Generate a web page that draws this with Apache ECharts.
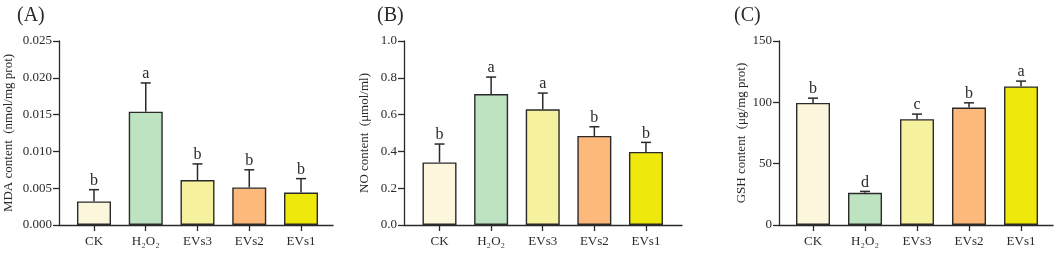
<!DOCTYPE html>
<html lang="en">
<head>
<meta charset="utf-8">
<title>MDA / NO / GSH</title>
<script src="https://cdn.jsdelivr.net/npm/echarts@6/dist/echarts.min.js"></script>
<style>
  html, body { margin: 0; padding: 0; background: #fff; }
  #main { width: 1059px; height: 254px; }
</style>
</head>
<body>
<div id="main"></div>
<script type="text/javascript">
// data
var categories = ['CK', 'H₂O₂', 'EVs3', 'EVs2', 'EVs1'];
var barColors = ['#fcf7dc', '#bde3c1', '#f6f19f', '#fdb97c', '#efe80c'];

var mdaMean = [0.0032, 0.0154, 0.0061, 0.0051, 0.0044];
var mdaErr  = [0.0016, 0.0039, 0.0022, 0.0024, 0.0019];
var mdaSig  = ['b', 'a', 'b', 'b', 'b'];

var noMean = [0.340, 0.712, 0.629, 0.484, 0.397];
var noErr  = [0.100, 0.092, 0.088, 0.050, 0.052];
var noSig  = ['b', 'a', 'a', 'b', 'b'];

var gshMean = [99.5, 26.3, 86.3, 95.8, 113.0];
var gshErr  = [3.9, 1.1, 4.1, 3.8, 4.3];
var gshSig  = ['b', 'd', 'c', 'b', 'a'];

var yTicks = {
  A: {max: 0.025, interval: 0.005, digits: 3},
  B: {max: 1.0, interval: 0.2, digits: 1},
  C: {max: 150, interval: 50, digits: 0}
};

var serif = '"Liberation Serif", "Times New Roman", serif';
var ink = '#2a2a2a';

// panel layout
var panels = [
  {tag: 'A', title: '(A)', tx: 12, name: 'MDA content  (nmol/mg prot)', nameGap: 44,
   left: 59, right: 726, xmin: -0.676, xmax: 4.618,
   mean: mdaMean, err: mdaErr, sig: mdaSig},
  {tag: 'B', title: '(B)', tx: 372, name: 'NO content  (μmol/ml)', nameGap: 33,
   left: 404, right: 377, xmin: -0.688, xmax: 4.698,
   mean: noMean, err: noErr, sig: noSig},
  {tag: 'C', title: '(C)', tx: 729, name: 'GSH content  (μg/mg prot)', nameGap: 31,
   left: 779, right: 6, xmin: -0.654, xmax: 4.615,
   mean: gshMean, err: gshErr, sig: gshSig}
];

var grid = [], xAxis = [], yAxis = [], series = [], titles = [];

panels.forEach(function (p, k) {
  var t = yTicks[p.tag];
  grid.push({left: p.left, right: p.right, top: 41, bottom: 29});
  titles.push({
    text: p.title, left: p.tx, top: 1,
    textStyle: {fontFamily: serif, fontSize: 20, fontWeight: 'normal', color: ink}
  });
  xAxis.push({
    type: 'value', gridIndex: k, min: p.xmin, max: p.xmax,
    splitLine: {show: false},
    axisLine: {show: true, onZero: false, lineStyle: {color: ink, width: 1.3}},
    axisTick: {show: true, length: 6, customValues: [0, 1, 2, 3, 4],
               lineStyle: {color: ink, width: 1.3}},
    axisLabel: {customValues: [0, 1, 2, 3, 4], margin: 10,
                fontFamily: serif, fontSize: 13, color: ink,
                formatter: function (v) { return categories[Math.round(v)]; }}
  });
  yAxis.push({
    type: 'value', gridIndex: k, min: 0, max: t.max, interval: t.interval,
    name: p.name, nameLocation: 'middle', nameGap: p.nameGap,
    nameTextStyle: {fontFamily: serif, fontSize: 13, color: ink},
    splitLine: {show: false},
    axisLine: {show: true, onZero: false, lineStyle: {color: ink, width: 1.3}},
    axisTick: {show: true, length: 6, lineStyle: {color: ink, width: 1.3}},
    axisLabel: {margin: 7, fontFamily: serif, fontSize: 13, color: ink,
                formatter: function (v) { return v.toFixed(t.digits); }}
  });

  var barData = p.mean.map(function (v, i) {
    return {value: [i, v], itemStyle: {color: barColors[i]}};
  });
  series.push({
    type: 'bar', xAxisIndex: k, yAxisIndex: k, barWidth: 34,
    itemStyle: {borderColor: ink, borderWidth: 1.4},
    data: barData, z: 3
  });

  // upper error bar with cap + significance letter
  var errData = p.mean.map(function (v, i) { return [i, v, v + p.err[i], i]; });
  series.push({
    type: 'custom', xAxisIndex: k, yAxisIndex: k, z: 2,
    data: errData,
    renderItem: function (params, api) {
      var lo = api.coord([api.value(0), api.value(1)]);
      var hi = api.coord([api.value(0), api.value(2)]);
      var cap = 5;
      return {
        type: 'group',
        children: [
          {type: 'line', shape: {x1: lo[0], y1: lo[1], x2: hi[0], y2: hi[1]},
           style: {stroke: ink, lineWidth: 1.5}},
          {type: 'line', shape: {x1: hi[0] - cap, y1: hi[1], x2: hi[0] + cap, y2: hi[1]},
           style: {stroke: ink, lineWidth: 1.5}},
          {type: 'text', x: hi[0], y: hi[1] - 1,
           style: {text: p.sig[api.value(3)], fill: ink, font: '16px ' + serif,
                   align: 'center', verticalAlign: 'bottom'}}
        ]
      };
    }
  });
});

var myChart = echarts.init(document.getElementById('main'));
myChart.setOption({
  animation: false,
  backgroundColor: '#fff',
  title: titles,
  grid: grid,
  xAxis: xAxis,
  yAxis: yAxis,
  series: series
});
</script>
</body>
</html>
